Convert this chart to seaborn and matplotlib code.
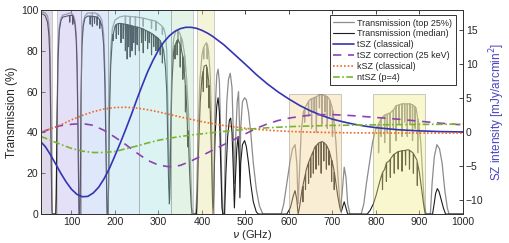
#
#   atmospheric transmission + SZ spectra (two y axes)
#

import matplotlib
matplotlib.use("Agg")
import matplotlib.pyplot as plt
import pandas as pd
import seaborn as sns

# --- atmospheric transmission (%): (GHz, %) ---
top25_pts = [
    (30, 99), (35, 99), (40, 98.5), (45, 97), (48, 93), (50, 86), (52, 62), (54, 26), (55, 6), (56, 0),
    (64, 0), (65, 10), (67, 50), (69, 80), (72, 92), (76, 96), (80, 97.5), (90, 98), (95, 98.5), (100, 98.5),
    (104, 97.5), (108, 95), (111, 88), (113, 75), (115, 45), (116.5, 15), (117.5, 0), (119.5, 0), (120.5, 20),
    (122, 60), (124, 85), (127, 94), (131, 97), (137, 98.5), (145, 98.5), (147.5, 98.5), (148, 96), (148.5, 98.5),
    (155, 98.5), (159.5, 98), (160, 95.5), (160.5, 98), (165, 97), (170, 95), (174, 88), (177, 70), (179, 45),
    (181, 15), (182, 0), (184, 0), (185.5, 20), (187, 55), (190, 80), (194, 91), (200, 95), (210, 96.5), (220, 97),
    (223.5, 97), (224, 90), (224.5, 97), (234.5, 96.8), (235, 91), (235.5, 96.8), (246.5, 96.6), (247, 92),
    (247.5, 96.6), (264.5, 96), (265, 92), (265.5, 96), (283.5, 95), (284, 91), (284.5, 95), (293.5, 94.5),
    (294, 90), (294.5, 94.5), (300, 93.5), (306, 92.5), (308.5, 92), (309, 88), (309.5, 91.5), (312, 91), (316, 88),
    (319, 80), (321, 60), (323, 35), (325, 12), (326, 15), (328, 45), (331, 75), (335, 86), (340, 90), (344.5, 90),
    (345, 84), (345.5, 90), (350, 88), (351.5, 87), (352, 80), (352.5, 86.5), (355, 85), (359.5, 79), (360, 70),
    (360.5, 78), (365, 65), (369, 50), (372, 35), (375, 15), (377, 3), (380, 0), (386, 0), (388, 10), (391, 40),
    (395, 65), (400, 78), (403.5, 81.5), (404, 76), (404.5, 82), (410, 84), (411.5, 83.5), (412, 76), (412.5, 83),
    (415, 80), (419, 68), (422, 45), (424, 15), (425.5, 3), (427, 15), (430, 50), (434, 68), (437, 71), (440, 65),
    (443, 40), (446, 10), (448, 0), (451, 0), (453, 25), (457, 55), (461, 66), (465, 69), (469, 62), (472, 40),
    (474.5, 15), (477, 35), (481, 55), (484, 60), (486, 45), (487.2, 20), (489, 42), (493, 55), (498, 57), (502, 56),
    (507, 50), (512, 40), (518, 25), (525, 12), (532, 4), (540, 0), (582, 0), (588, 5), (595, 15), (602, 25),
    (608, 32), (614, 34), (618, 25), (621, 5), (624, 20), (628, 40), (633, 50), (635.5, 51), (636, 45), (636.5, 52),
    (644.5, 55), (645, 48), (645.5, 55.5), (651.5, 56.5), (652, 42), (652.5, 56.5), (657.5, 57), (658, 50),
    (658.5, 57), (662.5, 57.5), (663, 40), (663.5, 57.5), (669.5, 58.5), (670, 52), (670.5, 58.5), (675.5, 58.5),
    (676, 44), (676.5, 58.5), (682.5, 58), (683, 50), (683.5, 58), (687.5, 57.5), (688, 42), (688.5, 57.5),
    (693.5, 56), (694, 48), (694.5, 55.5), (699.5, 52), (700, 38), (700.5, 51), (703, 47), (708, 35), (712, 20),
    (716, 8), (719, 3), (722, 10), (727, 23), (731, 18), (735, 5), (740, 0), (766, 0), (772, 5), (778, 15),
    (785, 25), (792, 35), (800, 42), (805.5, 44), (806, 30), (806.5, 44.5), (811.5, 46.5), (812, 38), (812.5, 47),
    (819.5, 48.5), (820, 35), (820.5, 48.5), (825.5, 49), (826, 40), (826.5, 49), (831.5, 49.5), (832, 30),
    (832.5, 49.5), (839.5, 51), (840, 42), (840.5, 51), (845.5, 53), (846, 36), (846.5, 53), (852.5, 53.5),
    (853, 44), (853.5, 53.5), (859.5, 54), (860, 38), (860.5, 54), (865.5, 54), (866, 45), (866.5, 54),
    (871.5, 54), (872, 38), (872.5, 54), (877.5, 54), (878, 44), (878.5, 54), (883.5, 53.5), (884, 36),
    (884.5, 53.5), (889.5, 52.5), (890, 42), (890.5, 52.5), (892, 52), (895.5, 47.5), (896, 30), (896.5, 46.5),
    (898, 45), (903, 35), (907, 20), (911, 5), (915, 0), (925, 0), (929, 15), (934, 28), (940, 34), (946, 32),
    (952, 25), (958, 12), (964, 3), (968, 0), (1000, 0),
]

median_pts = [
    (30, 98), (35, 98), (40, 97), (45, 94), (48, 88), (50, 78), (52, 50), (54, 15), (55, 2), (56, 0), (64, 0),
    (65, 8), (67, 45), (69, 75), (72, 90), (76, 95), (80, 96.5), (90, 97), (95.5, 97.3), (96, 94), (96.5, 97.4),
    (102.5, 97.2), (103, 93), (103.5, 97), (108, 93), (111, 85), (113, 70), (115, 40), (116.5, 10), (117.5, 0),
    (119.5, 0), (120.5, 15), (122, 55), (124, 82), (127, 92), (131, 96), (137, 97), (142.5, 97), (143, 93),
    (143.5, 97), (147.5, 96.8), (148, 92), (148.5, 96.8), (152.5, 96.8), (153, 93.5), (153.5, 96.8), (158.5, 96.5),
    (159, 92.5), (159.5, 96.5), (164.5, 95.3), (165, 91), (165.5, 95), (170, 92), (174, 83), (177, 62), (179, 35),
    (181, 8), (182, 0), (184, 0), (185.5, 15), (187, 45), (190, 72), (194, 86), (195.5, 88), (196, 85),
    (196.5, 88.5), (200, 92), (202.5, 92.8), (203, 86), (203.5, 93), (207.5, 93.3), (208, 88), (208.5, 93.4),
    (213.5, 93.4), (214, 84), (214.5, 93.3), (218.5, 93.2), (219, 86), (219.5, 93.1), (223.5, 93), (224, 80),
    (224.5, 93), (227.5, 92.8), (228, 76), (228.5, 92.8), (230.5, 92.6), (231, 82), (231.5, 92.6), (234.5, 92.5),
    (235, 77), (235.5, 92.5), (238.5, 92.2), (239, 80), (239.5, 92.2), (242.5, 92), (243, 84), (243.5, 92),
    (246.5, 91.8), (247, 78), (247.5, 91.8), (250.5, 91.6), (251, 83), (251.5, 91.6), (255.5, 91.4), (256, 80),
    (256.5, 91.3), (260.5, 91), (261, 84), (261.5, 91), (264.5, 90.8), (265, 79), (265.5, 90.6), (269.5, 90.1),
    (270, 85), (270.5, 90), (274.5, 89.6), (275, 81), (275.5, 89.5), (278.5, 89.2), (279, 84), (279.5, 89.1),
    (283.5, 88.6), (284, 78), (284.5, 88.5), (288.5, 87.8), (289, 82), (289.5, 87.7), (293.5, 87), (294, 80),
    (294.5, 86.9), (298.5, 86.3), (299, 80), (299.5, 86.1), (303.5, 85), (304, 78), (304.5, 84.8), (308.5, 82.5),
    (309, 74), (309.5, 82), (312, 80), (316, 72), (319, 60), (321, 40), (323, 18), (325, 5), (326, 8), (328, 35),
    (331, 65), (335, 80), (337.5, 82.5), (338, 76), (338.5, 83), (342.5, 85), (343, 78), (343.5, 85.2), (345, 85.5),
    (349.5, 83.3), (350, 72), (350.5, 83), (355.5, 77.5), (356, 66), (356.5, 77), (360, 68), (361.5, 64),
    (362, 50), (362.5, 63), (365, 52), (366.5, 43), (367, 33), (367.5, 41), (369, 35), (372, 18), (375, 5),
    (377, 0), (387, 0), (389, 5), (392, 30), (396, 55), (400, 67), (402.5, 70), (403, 60), (403.5, 70.5),
    (405, 72.5), (410, 73), (410.5, 72.5), (411, 62), (411.5, 72), (415, 66), (415.5, 65), (416, 52), (416.5, 63),
    (419, 50), (422, 28), (424, 8), (425.5, 0), (427, 8), (430, 38), (434, 53), (437, 57), (440, 50), (443, 25),
    (446, 3), (448, 0), (452, 0), (455, 20), (459, 38), (463, 46), (466, 47), (469, 40), (472, 22), (474.5, 3),
    (477, 18), (480, 32), (483, 38), (486, 25), (487.2, 8), (489, 25), (493, 34), (498, 36), (502, 33), (507, 25),
    (512, 15), (518, 6), (525, 1), (530, 0), (595, 0), (603, 3), (610, 9), (614, 11.5), (618, 7), (621, 0),
    (624, 3), (630, 12), (631.5, 13.5), (632, 6), (632.5, 14.5), (637.5, 19.5), (638, 12), (638.5, 20.5),
    (640, 22), (644.5, 25), (645, 15), (645.5, 25.5), (649.5, 27.7), (650, 18), (650.5, 28.2), (655.5, 30.7),
    (656, 20), (656.5, 31.2), (660, 33), (661.5, 33.3), (662, 22), (662.5, 33.5), (667.5, 34.7), (668, 24),
    (668.5, 34.8), (670, 35), (673.5, 35.3), (674, 20), (674.5, 35.3), (677, 35.5), (679.5, 35.1), (680, 26),
    (680.5, 35), (685, 34), (685.5, 33.8), (686, 22), (686.5, 33.7), (691.5, 31.4), (692, 24), (692.5, 30.9),
    (697.5, 26.8), (698, 16), (698.5, 26.3), (700, 25), (703.5, 21.5), (704, 12), (704.5, 20.3), (706, 18),
    (712, 9), (717, 3), (720, 1), (724, 4), (727, 6), (731, 3), (735, 0), (780, 0), (787, 2), (794, 5), (800, 9),
    (810, 17), (814.5, 20), (815, 12), (815.5, 20.5), (820, 22), (823.5, 24.8), (824, 16), (824.5, 25.2),
    (830, 26), (832.5, 26.8), (833, 18), (833.5, 27.1), (840, 29), (841.5, 29.3), (842, 20), (842.5, 29.4),
    (850, 30.5), (850.5, 30.5), (851, 22), (851.5, 30.6), (859.5, 31), (860, 21), (860.5, 31), (867.5, 31.2),
    (868, 24), (868.5, 31.3), (875, 31.5), (876.5, 31.3), (877, 22), (877.5, 31.2), (885, 30), (885.5, 29.8),
    (886, 20), (886.5, 29.5), (894, 26.5), (894.5, 26), (895, 14), (895.5, 25), (900, 20), (905, 12), (910, 4),
    (913, 0), (930, 0), (933, 4), (937, 10), (941, 12.5), (945, 11), (950, 7), (955, 3), (960, 0), (1000, 0),
]

# --- SZ spectra (mJy/arcmin^2) ---
tsz_freq = [30, 40, 50, 62.5, 75, 87.5, 100, 112.5, 125, 137.5, 150, 162.5, 175, 187.5, 200, 212.5, 225,
            237.5, 250, 262.5, 275, 287.5, 300, 312.5, 325, 337.5, 350, 362.5, 375, 387.5, 400, 412.5, 425,
            450, 475, 500, 525, 550, 575, 600, 625, 650, 675, 700, 725, 750, 775, 800, 850, 900, 950, 1000]
tsz_vals = [-1.4, -2.1, -3.1, -4.5, -5.95, -7.25, -8.35, -9.1, -9.45, -9.4, -8.9, -8.05, -6.8, -5.25, -3.4,
            -1.5, 0.5, 2.6, 4.8, 6.9, 8.9, 10.6, 12.1, 13.3, 14.2, 14.85, 15.25, 15.45, 15.45, 15.3, 15.0,
            14.6, 14.1, 12.9, 11.45, 10.0, 8.5, 7.15, 5.95, 4.9, 3.95, 3.15, 2.5, 1.95, 1.55, 1.2, 0.92,
            0.7, 0.4, 0.23, 0.12, 0.07]

corr_freq = [30, 50, 75, 100, 125, 150, 175, 200, 225, 250, 275, 300, 325, 350, 375, 400, 425, 450, 475,
             500, 525, 550, 575, 600, 625, 650, 675, 700, 750, 800, 850, 900, 950, 1000]
corr_vals = [-0.05, 0.5, 1.0, 1.2, 1.3, 1.05, 0.3, -0.7, -1.8, -3.0, -4.1, -4.8, -5.05, -4.85, -4.2, -3.4,
             -2.6, -1.8, -1.0, -0.2, 0.6, 1.25, 1.75, 2.1, 2.35, 2.55, 2.62, 2.62, 2.45, 2.2, 1.95, 1.65,
             1.35, 1.1]

ksz_freq = [30, 50, 75, 100, 125, 150, 175, 200, 225, 250, 275, 300, 325, 350, 375, 400, 450, 500, 550,
            600, 650, 700, 750, 800, 900, 1000]
ksz_vals = [0.1, 0.5, 1.1, 1.85, 2.5, 3.05, 3.45, 3.66, 3.7, 3.58, 3.34, 3.02, 2.65, 2.28, 1.92, 1.58,
            1.01, 0.6, 0.33, 0.15, 0.04, -0.02, -0.06, -0.08, -0.09, -0.1]

ntsz_freq = [30, 50, 75, 100, 125, 150, 175, 200, 225, 250, 275, 300, 325, 350, 375, 400, 450, 500, 550,
             600, 650, 700, 800, 900, 1000]
ntsz_vals = [-0.6, -1.1, -1.75, -2.35, -2.75, -2.95, -2.95, -2.8, -2.4, -2.0, -1.55, -1.15, -0.85, -0.6,
             -0.38, -0.2, 0.15, 0.45, 0.68, 0.85, 0.95, 1.03, 1.12, 1.18, 1.22]

# --- observing bands (GHz) ---
band_lo = [30, 66, 121, 183, 255, 329, 389]
band_hi = [55, 121, 183, 255, 329, 379, 427]
band_colors = ["#b1a1cd", "#b9b3ef", "#adc7f3", "#abd9ed", "#a7e1df", "#b9e5c1", "#e9e59f"]
box_lo = [600, 792]
box_hi = [719, 912]
box_top = [58.8, 58.8]
box_colors = ["#f2d293", "#f1eb83"]

top25 = pd.DataFrame(top25_pts, columns=["freq", "trans"])
median = pd.DataFrame(median_pts, columns=["freq", "trans"])

sns.set_style("white")
plt.rcParams["font.family"] = ["Liberation Sans", "DejaVu Sans"]
plt.rcParams["axes.edgecolor"] = "#333333"
plt.rcParams["axes.linewidth"] = 0.7

fig = plt.figure(figsize=(5.09, 2.43), dpi=100)
ax = fig.add_axes([0.0806, 0.119, 0.829, 0.840])

sns.lineplot(data=top25, x="freq", y="trans", ax=ax, color="#8c8c8c", lw=0.9,
             label="Transmission (top 25%)", zorder=1)
sns.lineplot(data=median, x="freq", y="trans", ax=ax, color="#1c1c1c", lw=0.8,
             label="Transmission (median)", zorder=1)

for lo, hi, c in zip(band_lo, band_hi, band_colors):
    ax.axvspan(lo, hi, facecolor=c, alpha=0.4, edgecolor="#8a8a8a", lw=0.7, zorder=2)
ax.bar(box_lo, box_top, width=[h - l for l, h in zip(box_lo, box_hi)], align="edge",
       color=box_colors, alpha=0.4, edgecolor="#7a7a7a", lw=0.7, zorder=2)

ax.set_xlim(30, 1000)
ax.set_ylim(0, 100)
ax.set_xticks(range(100, 1001, 100))
ax.set_yticks(range(0, 101, 20))
ax.set_xlabel(r"$\nu$ (GHz)", fontsize=8, labelpad=1)
ax.set_ylabel("Transmission (%)", fontsize=8.5, labelpad=2)
ax.tick_params(axis="both", direction="in", length=3, width=0.6, labelsize=7.5, pad=2,
               top=True, bottom=True, left=True)

ax2 = ax.twinx()
sns.lineplot(x=tsz_freq, y=tsz_vals, ax=ax2, color="#3434b4", lw=1.2, label="tSZ (classical)")
sns.lineplot(x=corr_freq, y=corr_vals, ax=ax2, color="#8c42b0", lw=1.2,
             linestyle=(0, (5, 4)), label="tSZ correction (25 keV)")
sns.lineplot(x=ksz_freq, y=ksz_vals, ax=ax2, color="#f06a24", lw=1.2,
             linestyle=(0, (1, 1.2)), label="kSZ (classical)")
sns.lineplot(x=ntsz_freq, y=ntsz_vals, ax=ax2, color="#79b52c", lw=1.2,
             linestyle=(0, (4, 1.5, 1, 1.5)), label="ntSZ (p=4)")
ax2.set_ylim(-12, 18)
ax2.set_yticks([-10, -5, 0, 5, 10, 15])
ax2.set_ylabel("SZ intensity [mJy/arcmin$^2$]", fontsize=8.5, color="#4a45c0", labelpad=3)
ax2.tick_params(axis="y", direction="in", length=3, width=0.6, labelsize=7.5, pad=2, right=True)

h1, l1 = ax.get_legend_handles_labels()
h2, l2 = ax2.get_legend_handles_labels()
ax.get_legend().remove()
leg = ax2.legend(h1 + h2, l1 + l2, loc="upper right", bbox_to_anchor=(0.993, 0.995), fontsize=6.5,
                 frameon=True, fancybox=False, edgecolor="#333333", framealpha=1,
                 handlelength=2.3, handletextpad=0.4, labelspacing=0.2, borderpad=0.35)
leg.get_frame().set_linewidth(0.7)

fig.savefig("out.png", dpi=100)
